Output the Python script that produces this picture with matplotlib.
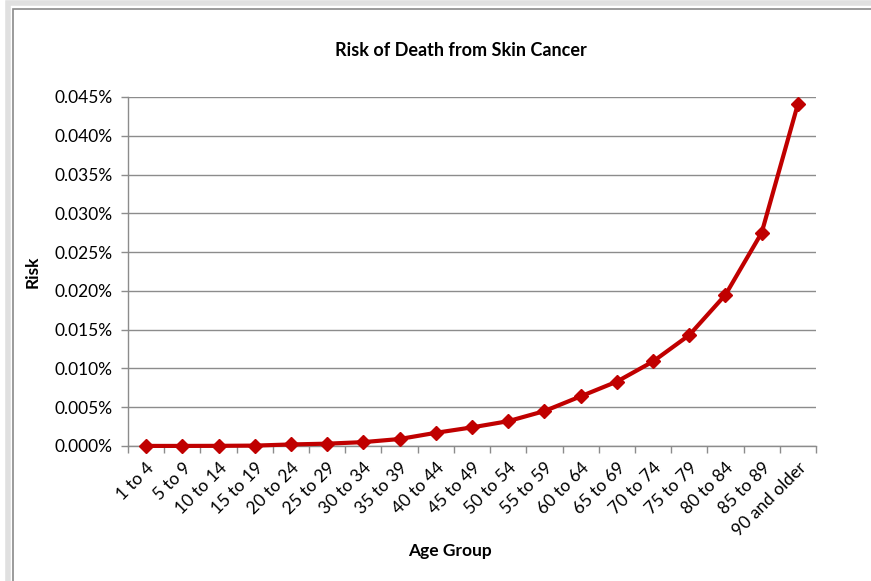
import matplotlib
matplotlib.use("Agg")
import matplotlib.pyplot as plt
from matplotlib.patches import Rectangle
from matplotlib.ticker import FuncFormatter, MultipleLocator

age_groups = ["1 to 4", "5 to 9", "10 to 14", "15 to 19", "20 to 24", "25 to 29",
              "30 to 34", "35 to 39", "40 to 44", "45 to 49", "50 to 54", "55 to 59",
              "60 to 64", "65 to 69", "70 to 74", "75 to 79", "80 to 84", "85 to 89",
              "90 and older"]
risk_pct = [0.00001, 0.00001, 0.00002, 0.00005, 0.0002, 0.0003, 0.0005, 0.0009,
            0.0017, 0.0024, 0.0032, 0.0045, 0.0064, 0.0083, 0.0109, 0.0143,
            0.0195, 0.0275, 0.0441]

plt.rcParams['font.family'] = ['Lato', 'DejaVu Sans']

W, H = 871, 581
fig = plt.figure(figsize=(W / 100, H / 100), dpi=100)
fig.patch.set_facecolor("white")

# chart-area frame
fig.patches.append(Rectangle((8 / W, -0.1), 1.2, 1 - 3 / H + 0.1,
                             transform=fig.transFigure, facecolor="none",
                             edgecolor="#e0e0e0", linewidth=4, zorder=0))
fig.patches.append(Rectangle((13 / W, -0.1), 1.2, 1 - 8.5 / H + 0.1,
                             transform=fig.transFigure, facecolor="none",
                             edgecolor="#8a8a8a", linewidth=1.2, zorder=0))

left, right, top, bottom = 128, 816, 97, 446
ax = fig.add_axes([left / W, 1 - bottom / H, (right - left) / W, (bottom - top) / H])

x = list(range(len(age_groups)))
ax.plot(x, risk_pct, color="#C00000", linewidth=3.0, marker="D",
        markersize=7, markerfacecolor="#C00000", markeredgecolor="#C00000",
        zorder=3, clip_on=False)

ax.set_xlim(-0.5, len(age_groups) - 0.5)
ax.set_ylim(0, 0.045)
ax.yaxis.set_major_locator(MultipleLocator(0.005))
ax.yaxis.set_major_formatter(FuncFormatter(lambda v, p: f"{v:.3f}%"))
ax.grid(axis="y", color="#8c8c8c", linewidth=1.0)
ax.set_axisbelow(True)

ax.set_xticks(x)
ax.set_xticklabels(age_groups, rotation=45, ha="right", va="top",
                   rotation_mode="anchor", fontsize=12.5)
ax.tick_params(axis="x", which="major", length=0, pad=10)
ax.set_xticks([i - 0.5 for i in range(len(age_groups) + 1)], minor=True)
ax.tick_params(axis="x", which="minor", length=5, color="#8c8c8c", width=1)
ax.tick_params(axis="y", length=5, color="#8c8c8c", width=1, labelsize=12.5, pad=6)

for s in ("top", "right"):
    ax.spines[s].set_visible(False)
for s in ("left", "bottom"):
    ax.spines[s].set_color("#8c8c8c")
    ax.spines[s].set_linewidth(1)

fig.text(461 / W, 1 - 51 / H, "Risk of Death from Skin Cancer", ha="center",
         va="center", fontsize=13, fontweight="bold")
fig.text(33 / W, 1 - 272 / H, "Risk", ha="center", va="center", rotation=90,
         fontsize=12.5, fontweight="bold")
fig.text(450 / W, 1 - 551 / H, "Age Group", ha="center", va="center",
         fontsize=12.5, fontweight="bold")

fig.savefig("out.png", dpi=100, facecolor="white")
